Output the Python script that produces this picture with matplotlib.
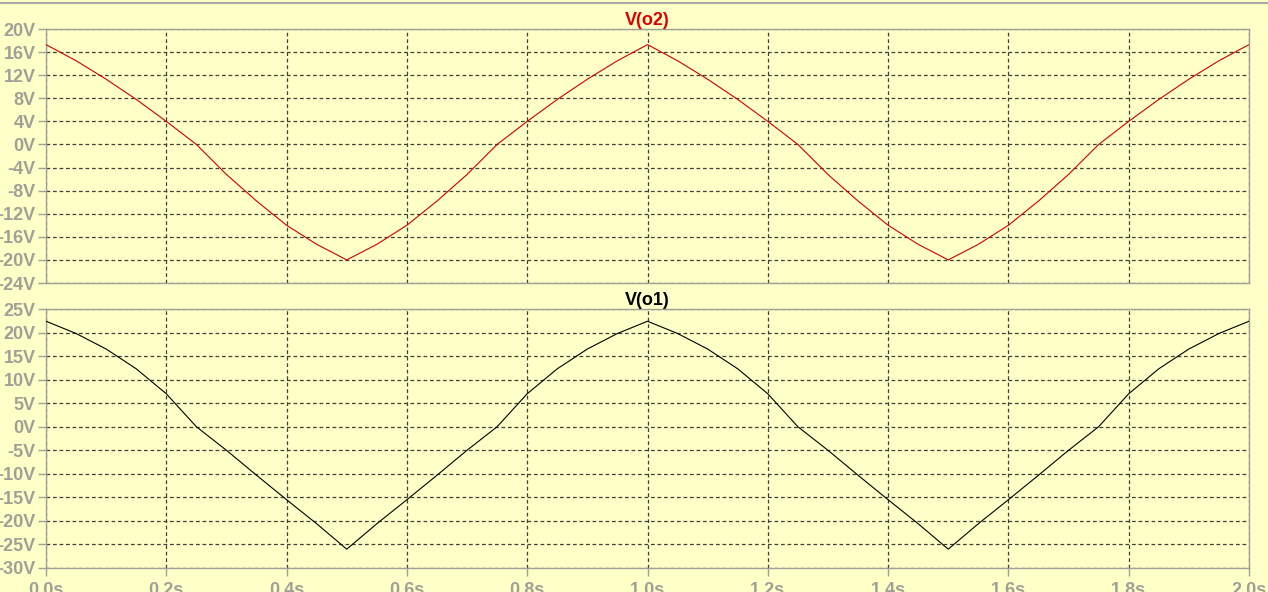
import matplotlib
matplotlib.use("Agg")
import matplotlib.pyplot as plt
from matplotlib.lines import Line2D

# Data (time in s, voltage in V)
t = [0.00, 0.05, 0.10, 0.15, 0.20, 0.25, 0.30, 0.35, 0.40, 0.45,
     0.50, 0.55, 0.60, 0.65, 0.70, 0.75, 0.80, 0.85, 0.90, 0.95,
     1.00, 1.05, 1.10, 1.15, 1.20, 1.25, 1.30, 1.35, 1.40, 1.45,
     1.50, 1.55, 1.60, 1.65, 1.70, 1.75, 1.80, 1.85, 1.90, 1.95, 2.00]

v_o2 = [17.3, 14.5, 11.3, 7.8, 4.0, 0.0, -5.2, -9.8, -14.0, -17.3,
        -20.0, -17.3, -14.0, -9.8, -5.2, 0.0, 4.0, 7.8, 11.3, 14.5,
        17.3, 14.5, 11.3, 7.8, 4.0, 0.0, -5.2, -9.8, -14.0, -17.3,
        -20.0, -17.3, -14.0, -9.8, -5.2, 0.0, 4.0, 7.8, 11.3, 14.5, 17.3]

v_o1 = [22.4, 19.8, 16.5, 12.3, 7.0, 0.0, -5.0, -10.3, -15.5, -20.6,
        -26.0, -20.6, -15.5, -10.3, -5.0, 0.0, 7.0, 12.3, 16.5, 19.8,
        22.4, 19.8, 16.5, 12.3, 7.0, 0.0, -5.0, -10.3, -15.5, -20.6,
        -26.0, -20.6, -15.5, -10.3, -5.0, 0.0, 7.0, 12.3, 16.5, 19.8, 22.4]

x_ticks = [0.0, 0.2, 0.4, 0.6, 0.8, 1.0, 1.2, 1.4, 1.6, 1.8, 2.0]
x_labels = ["0.0s", "0.2s", "0.4s", "0.6s", "0.8s", "1.0s", "1.2s", "1.4s", "1.6s", "1.8s", "2.0s"]
y2_ticks = [20, 16, 12, 8, 4, 0, -4, -8, -12, -16, -20, -24]
y2_labels = ["20V", "16V", "12V", "8V", "4V", "0V", "-4V", "-8V", "-12V", "-16V", "-20V", "-24V"]
y1_ticks = [25, 20, 15, 10, 5, 0, -5, -10, -15, -20, -25, -30]
y1_labels = ["25V", "20V", "15V", "10V", "5V", "0V", "-5V", "-10V", "-15V", "-20V", "-25V", "-30V"]

BG = "#FFFFC8"
AX = "#A0A098"
GRID = "#404038"

plt.rcParams['font.family'] = ['Liberation Sans', 'DejaVu Sans']

W, H = 1268, 592
fig = plt.figure(figsize=(W / 100, H / 100), dpi=100, facecolor=BG)

def px_axes(x0, x1, y0, y1):
    return fig.add_axes([x0 / W, 1 - y1 / H, (x1 - x0) / W, (y1 - y0) / H])

ax2 = px_axes(46, 1249, 29, 283)
ax1 = px_axes(46, 1249, 309, 568)

def style(ax, yt, yl, show_x):
    ax.set_facecolor(BG)
    ax.set_xlim(0, 2.0)
    ax.set_ylim(yt[-1], yt[0])
    ax.set_xticks(x_ticks)
    ax.set_yticks(yt)
    ax.set_yticklabels(yl)
    if show_x:
        ax.set_xticklabels(x_labels)
    else:
        ax.set_xticklabels([])
    for s in ax.spines.values():
        s.set_color(AX)
        s.set_linewidth(1.0)
    ax.tick_params(axis='y', colors=AX, length=6, width=1.0, direction='out',
                   labelsize=13, pad=1.5)
    ax.tick_params(axis='x', colors=AX, length=5.5 if show_x else 0, width=1.0,
                   direction='out', labelsize=13, pad=4.5)
    for lab in ax.get_yticklabels() + ax.get_xticklabels():
        lab.set_fontweight('bold')
        lab.set_color(AX)
    ax.grid(True, color=GRID, linestyle=(0, (3.0, 2.2)), linewidth=0.9)
    ax.set_axisbelow(True)

style(ax2, y2_ticks, y2_labels, False)
style(ax1, y1_ticks, y1_labels, True)

ax2.plot(t, v_o2, color="#CC0000", linewidth=0.8, zorder=3)
ax1.plot(t, v_o1, color="#000000", linewidth=0.8, zorder=3)

ax2.set_title("V(o2)", color="#DD0000", fontweight='bold', fontsize=13, pad=3)
ax1.set_title("V(o1)", color="#000000", fontweight='bold', fontsize=13, pad=3)

# top frame line
fig.add_artist(Line2D([0, 1], [1 - 2.5 / H, 1 - 2.5 / H], transform=fig.transFigure,
                      color="#A8A8A8", linewidth=1.5))

fig.savefig("out.png", dpi=100, facecolor=BG)
